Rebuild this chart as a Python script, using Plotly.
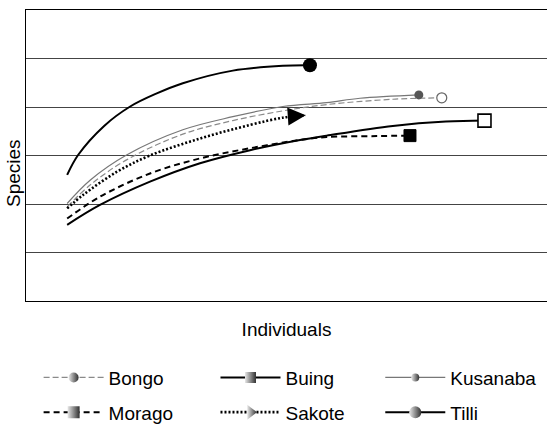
import plotly.graph_objects as go

# Values (x = individuals, y = species; arbitrary units)
tilli_x = [79, 100, 150, 200, 251, 301, 397, 493, 545]
tilli_y = [26.0, 30.1, 36.1, 40.1, 42.8, 44.9, 47.5, 48.5, 48.6]
kusanaba_x = [79, 123, 193, 301, 397, 493, 577, 641, 754]
kusanaba_y = [20.1, 24.9, 30.1, 35.3, 38.0, 40.1, 40.9, 41.8, 42.5]
bongo_x = [79, 123, 193, 301, 397, 493, 577, 704, 798]
bongo_y = [19.4, 23.9, 29.1, 34.4, 37.2, 39.2, 40.5, 41.6, 41.9]
sakote_x = [79, 110, 174, 238, 334, 430, 493, 537]
sakote_y = [19.1, 21.9, 26.6, 30.0, 33.5, 36.3, 37.8, 38.3]
morago_x = [79, 142, 238, 334, 430, 526, 577, 673, 737]
morago_y = [17.0, 21.5, 26.3, 29.4, 31.5, 33.2, 33.8, 34.0, 34.1]
buing_x = [79, 142, 238, 334, 430, 526, 577, 704, 806, 880]
buing_y = [15.7, 19.8, 24.6, 28.4, 31.1, 33.2, 34.1, 36.1, 37.0, 37.2]

FONT = "Liberation Sans, Arial, Helvetica, sans-serif"
FS = 19

series = [
    # name, x, y, line style, end marker style, legend marker style, legend id
    ("Bongo", bongo_x, bongo_y,
     dict(color="#8a8a8a", width=1.2, dash="6px,3px"),
     dict(symbol="circle", size=10, color="white", line=dict(color="#666", width=1.2)),
     dict(symbol="circle", size=10), "legend"),
    ("Morago", morago_x, morago_y,
     dict(color="black", width=2, dash="6px,4px"),
     dict(symbol="square", size=12, color="black", line=dict(color="black", width=1)),
     dict(symbol="square", size=12), "legend"),
    ("Buing", buing_x, buing_y,
     dict(color="black", width=2),
     dict(symbol="square", size=13, color="white", line=dict(color="black", width=1.6)),
     dict(symbol="square", size=11), "legend2"),
    ("Sakote", sakote_x, sakote_y,
     dict(color="black", width=2.6, dash="2px,2px"),
     dict(symbol="arrow-right", size=18, angle=-4, color="black", line=dict(color="black", width=0)),
     dict(symbol="triangle-right", size=13), "legend2"),
    ("Kusanaba", kusanaba_x, kusanaba_y,
     dict(color="#777", width=1.2),
     dict(symbol="circle", size=9, color="#555", line=dict(color="#555", width=0)),
     dict(symbol="circle", size=8), "legend3"),
    ("Tilli", tilli_x, tilli_y,
     dict(color="black", width=2),
     dict(symbol="circle", size=14, color="black", line=dict(color="black", width=0)),
     dict(symbol="circle", size=12), "legend3"),
]

fig = go.Figure()
for name, xs, ys, ln, mk, lmk, leg in series:
    fig.add_trace(go.Scatter(x=xs, y=ys, mode="lines", line=dict(shape="spline", **ln),
                             showlegend=False, hoverinfo="skip"))
    fig.add_trace(go.Scatter(x=[xs[-1]], y=[ys[-1]], mode="markers", marker=mk,
                             showlegend=False, hoverinfo="skip"))
for name, xs, ys, ln, mk, lmk, leg in series:
    lm = dict(lmk)
    lm.update(color="#e8e8e8", gradient=dict(type="horizontal", color="#303030"),
              line=dict(width=0))
    fig.add_trace(go.Scatter(x=[None], y=[None], mode="lines+markers", name=name,
                             line=dict(color=ln["color"], width=ln["width"], dash=ln.get("dash", "solid")),
                             marker=lm, legend=leg, legendgroup=name, showlegend=True))

leg_common = dict(orientation="v", xanchor="left", yanchor="top", y=-0.198,
                  font=dict(family=FONT, size=FS, color="black"),
                  bgcolor="rgba(0,0,0,0)", tracegroupgap=7, itemwidth=60)

fig.update_layout(
    width=547, height=425,
    margin=dict(l=26, r=0, t=10, b=124, autoexpand=False),
    paper_bgcolor="white", plot_bgcolor="white",
    font=dict(family=FONT, size=FS, color="black"),
    xaxis=dict(range=[0, 1000], showgrid=False, zeroline=False, showline=True,
               linecolor="black", linewidth=1, mirror=True, showticklabels=False,
               ticks="", title=dict(text="Individuals", standoff=21,
                                     font=dict(family=FONT, size=FS))),
    yaxis=dict(range=[0, 60], tick0=0, dtick=10, showgrid=True, gridcolor="#444",
               gridwidth=1, zeroline=False, showline=True, linecolor="black",
               linewidth=1, showticklabels=False, ticks=""),
    legend=dict(x=0.0242, **leg_common),
    legend2=dict(x=0.3637, **leg_common),
    legend3=dict(x=0.680, **leg_common),
    annotations=[dict(text="Species", xref="paper", yref="paper", x=-0.023, y=0.44,
                      xanchor="center", yanchor="middle", textangle=-90, showarrow=False,
                      font=dict(family=FONT, size=FS, color="black"))],
)

fig.write_html("out.html", config={"displayModeBar": False},
               post_script="document.body.style.margin='0';document.body.style.overflow='hidden';")
